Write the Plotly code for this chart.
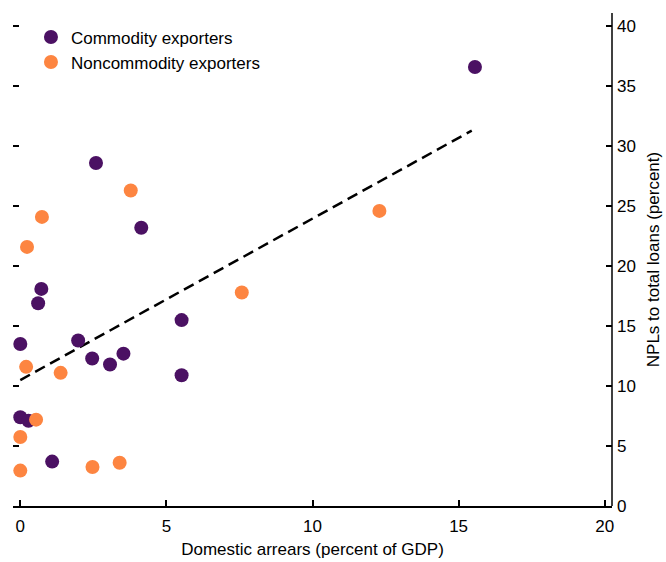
import numpy as np
import plotly.graph_objects as go

# Commodity exporters: domestic arrears (% of GDP) vs NPL ratio (%)
commodity_x = [15.56, 2.59, 4.14, 0.72, 0.61, 5.52, 0.0, 1.98, 2.46, 3.53, 3.07, 5.52, 0.0, 0.28, 1.09]
commodity_y = [36.6, 28.6, 23.2, 18.1, 16.9, 15.5, 13.5, 13.8, 12.3, 12.7, 11.8, 10.9, 7.4, 7.1, 3.7]

# Noncommodity exporters
noncommodity_x = [3.78, 0.74, 0.23, 12.29, 7.58, 0.2, 1.38, 0.54, 0.0, 0.0, 2.47, 3.4]
noncommodity_y = [26.3, 24.1, 21.6, 24.6, 17.8, 11.6, 11.1, 7.2, 5.75, 2.95, 3.25, 3.6]

# Fitted trend line
trend_intercept = 10.5
trend_slope = 1.346
trend_x = [0.0, 15.45]

x_ticks = [0, 5, 10, 15, 20]
y_ticks = [0, 5, 10, 15, 20, 25, 30, 35, 40]

PURPLE = "#4b1163"
ORANGE = "#fd8541"
FONT = "Liberation Sans, Arial, sans-serif"

trend_y = [trend_intercept + trend_slope * v for v in trend_x]

fig = go.Figure()
fig.add_trace(go.Scatter(
    x=trend_x, y=trend_y, mode="lines", showlegend=False,
    line=dict(color="black", width=2.5, dash="11px,6px"), hoverinfo="skip",
))
fig.add_trace(go.Scatter(
    x=commodity_x, y=commodity_y, mode="markers", name="Commodity exporters",
    marker=dict(color=PURPLE, size=14, line=dict(width=0)),
))
fig.add_trace(go.Scatter(
    x=noncommodity_x, y=noncommodity_y, mode="markers", name="Noncommodity exporters",
    marker=dict(color=ORANGE, size=14, line=dict(width=0)),
))

fig.update_layout(
    width=666, height=562,
    margin=dict(l=13, r=54, t=13, b=56),
    paper_bgcolor="white", plot_bgcolor="white",
    font=dict(family=FONT, size=17, color="black"),
    showlegend=True,
    legend=dict(
        x=0.03, y=0.987, xanchor="left", yanchor="top",
        bgcolor="rgba(0,0,0,0)", font=dict(size=17),
        tracegroupgap=0, itemwidth=30,
    ),
    xaxis=dict(
        range=[-0.25, 20.25], tickvals=x_ticks, showgrid=False, zeroline=False,
        showline=True, linecolor="black", linewidth=1.5, automargin=False,
        ticks="inside", ticklen=6, tickcolor="black", tickwidth=1.5,
        ticklabelstandoff=4,
        title=dict(text="Domestic arrears (percent of GDP)", standoff=8, font=dict(size=17)),
    ),
    yaxis=dict(
        range=[0, 41.1], tickvals=y_ticks, side="right", showgrid=False, zeroline=False,
        showline=False, mirror="ticks", automargin=False,
        ticks="inside", ticklen=6, tickcolor="black", tickwidth=1.5,
        ticklabelstandoff=4,
        title=dict(text="NPLs to total loans (percent)", standoff=12, font=dict(size=17)),
    ),
    shapes=[dict(
        type="line", xref="paper", yref="paper", x0=1, x1=1, y0=0, y1=1,
        line=dict(color="black", width=1.5),
    )],
)

fig.write_html("out.html")
